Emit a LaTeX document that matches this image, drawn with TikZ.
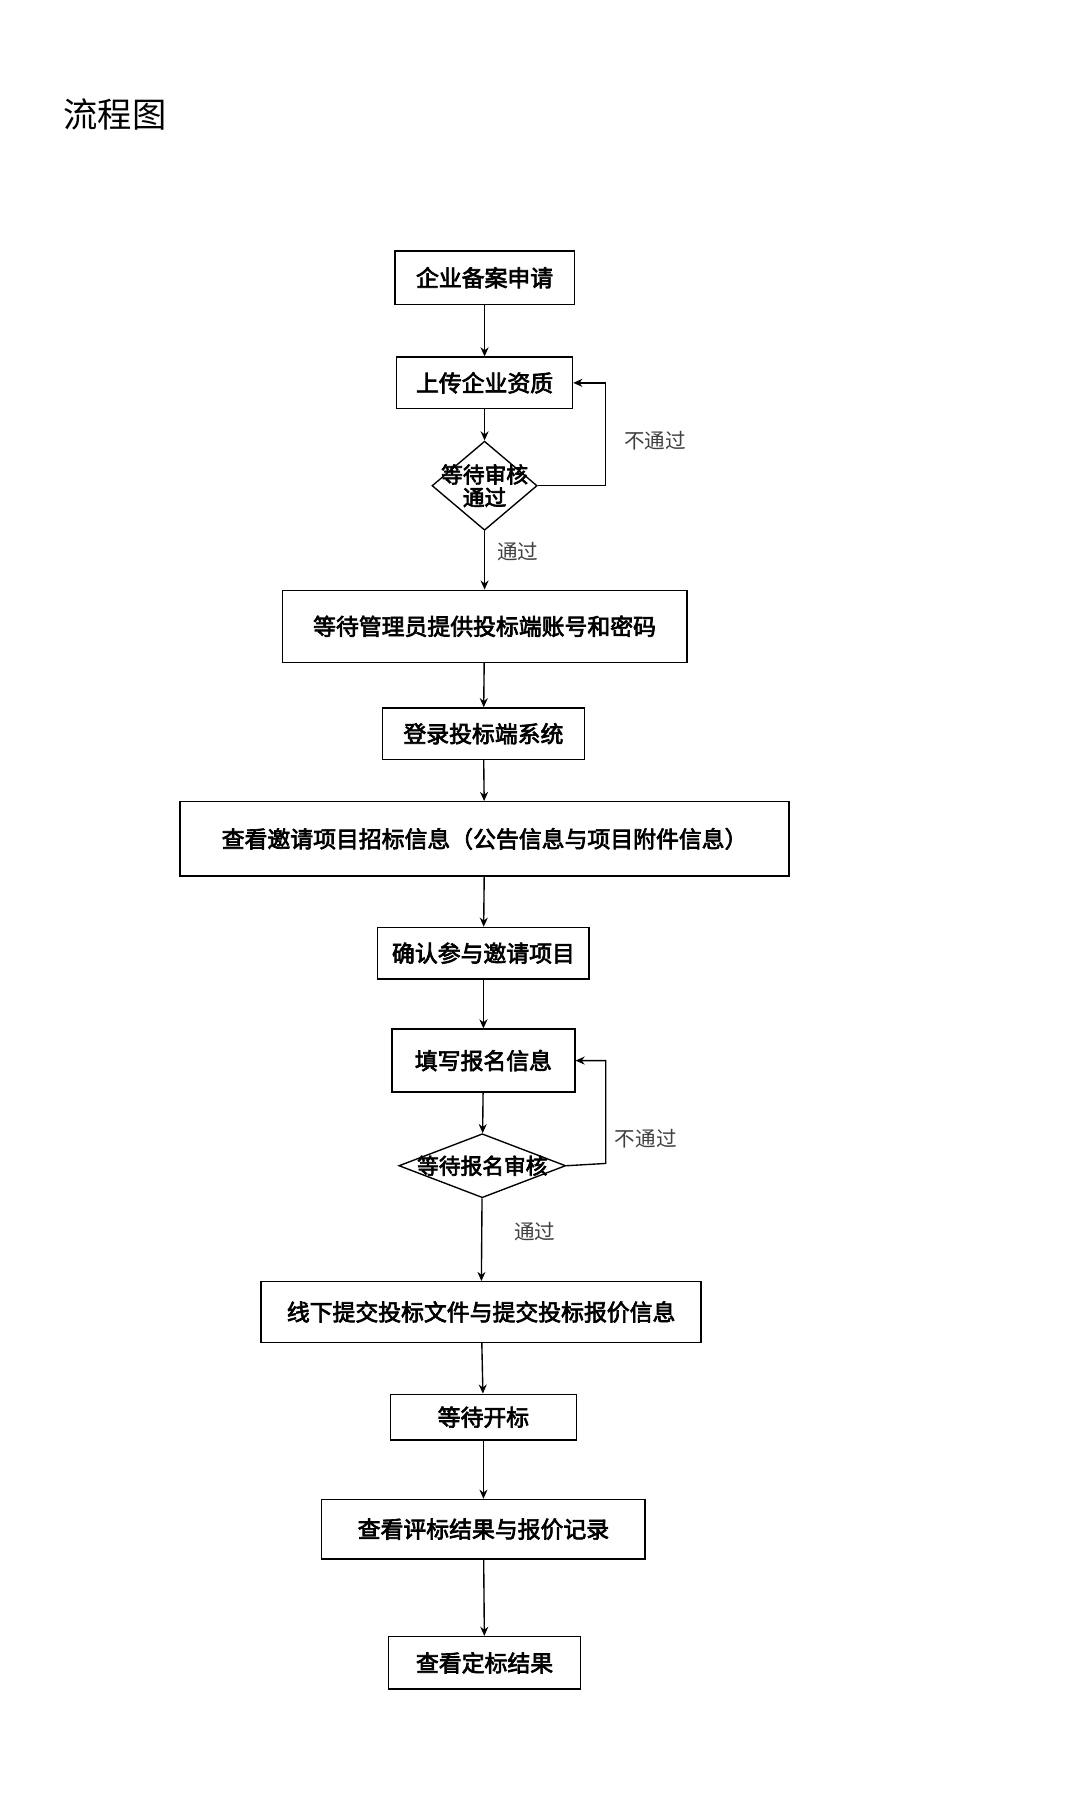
\documentclass[tikz,border=0pt]{standalone}
\usepackage{fontspec}
\setmainfont{Noto Sans CJK SC}[AutoFakeBold=3]
\usetikzlibrary{shapes.geometric,arrows.meta}
\begin{document}
\begin{tikzpicture}[x=1pt,y=-1pt,
 box/.style={draw,line width=1.2pt,inner sep=0,font=\fontsize{20}{22}\selectfont\bfseries},
 dia/.style={draw,diamond,line width=1.2pt,inner sep=0},
 dt/.style={font=\fontsize{19}{22}\selectfont\bfseries,align=center},
 lab/.style={font=\fontsize{18}{20}\selectfont,text=black!75},
 ar/.style={-{Stealth[length=8pt,width=7pt]},line width=1.2pt}]
\useasboundingbox (0,0) rectangle (945,1575);
\node[font=\fontsize{30}{34}\selectfont,anchor=west] (title) at (52,100) {流程图};
\node[box,minimum width=157,minimum height=47] (b1) at (424,243) {企业备案申请};
\node[box,minimum width=154,minimum height=45] (b2) at (424,335) {上传企业资质};
\node[dia,minimum width=92,minimum height=78] (d1) at (424,425) {};
\node[dt] (d1t) at (424,425) {等待审核\\[-2pt]通过};
\node[box,minimum width=354,minimum height=63] (b4) at (424,548) {等待管理员提供投标端账号和密码};
\node[box,minimum width=177,minimum height=45] (b5) at (423,642) {登录投标端系统};
\node[box,minimum width=533,minimum height=65] (b6) at (424,734) {查看邀请项目招标信息（公告信息与项目附件信息）};
\node[box,minimum width=185,minimum height=45] (b7) at (423,834) {确认参与邀请项目};
\node[box,minimum width=160,minimum height=55] (b8) at (423,928) {填写报名信息};
\node[dia,minimum width=146,minimum height=56] (d2) at (422,1020) {};
\node[dt] (d2t) at (422,1020) {等待报名审核};
\node[box,minimum width=385,minimum height=53] (b10) at (421,1148) {线下提交投标文件与提交投标报价信息};
\node[box,minimum width=163,minimum height=40] (b11) at (423,1240) {等待开标};
\node[box,minimum width=283,minimum height=52] (b12) at (423,1338) {查看评标结果与报价记录};
\node[box,minimum width=168,minimum height=46] (b13) at (424,1455) {查看定标结果};
\draw[ar] (b1) -- (b2);
\draw[ar] (b2) -- (d1);
\draw[ar] (d1) -- (b4);
\draw[ar] (b4) -- (b5);
\draw[ar] (b5) -- (b6);
\draw[ar] (b6) -- (b7);
\draw[ar] (b7) -- (b8);
\draw[ar] (b8) -- (d2);
\draw[ar] (d2) -- (b10);
\draw[ar] (b10) -- (b11);
\draw[ar] (b11) -- (b12);
\draw[ar] (b12) -- (b13);
\draw[ar] (d1.east) -- (530,425) |- (b2.east);
\draw[ar] (d2.east) -- (530,1018) |- (b8.east);
\node[lab] (l1) at (573,386) {不通过};
\node[lab] (l2) at (453,483) {通过};
\node[lab] (l3) at (565,996) {不通过};
\node[lab] (l4) at (468,1078) {通过};
\end{tikzpicture}
\end{document}
